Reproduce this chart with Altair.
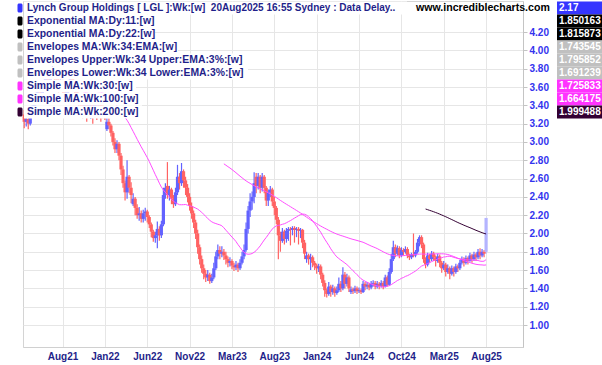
import altair as alt
import pandas as pd
import numpy as np

# ---------------- data (weekly OHLC) ----------------
open_ = [3.30,3.22,3.25,3.20,3.30,3.38,3.42,3.50,3.55,3.48,3.60,3.65,3.70,3.62,3.75,3.80,3.72,3.68,3.60,3.66,
         3.58,3.50,3.55,3.62,3.70,3.64,3.56,3.50,3.45,3.40,3.38,3.42,3.36,3.40,3.45,3.38,3.42,3.40,3.44,3.38,
         3.36,3.14,3.22,3.18,3.10,3.00,2.92,2.98,2.85,2.70,2.55,2.45,2.62,2.50,2.32,2.38,2.28,2.20,2.22,2.16,
         2.22,2.24,2.18,2.10,2.02,1.95,1.98,2.05,1.98,2.10,2.42,2.52,2.42,2.48,2.38,2.32,2.45,2.62,2.55,2.68,
         2.58,2.50,2.40,2.30,2.22,2.12,2.00,1.85,1.72,1.62,1.56,1.52,1.55,1.48,1.52,1.62,1.75,1.82,1.78,1.80,
         1.76,1.72,1.68,1.70,1.65,1.63,1.66,1.62,1.68,1.75,1.82,2.05,2.25,2.35,2.40,2.62,2.52,2.62,2.50,2.62,
         2.50,2.36,2.45,2.48,2.35,2.28,2.15,1.98,1.92,2.02,1.94,2.03,2.05,2.04,2.06,2.04,2.05,2.03,2.04,1.90,
         1.72,1.76,1.72,1.74,1.68,1.65,1.62,1.64,1.55,1.46,1.38,1.34,1.42,1.36,1.40,1.35,1.38,1.45,1.40,1.55,
         1.45,1.52,1.36,1.39,1.37,1.40,1.37,1.38,1.36,1.45,1.42,1.44,1.41,1.45,1.46,1.42,1.45,1.43,1.46,1.42,
         1.52,1.44,1.58,1.72,1.85,1.78,1.84,1.76,1.82,1.80,1.83,1.76,1.74,1.77,1.76,1.80,1.90,1.96,1.88,1.72,
         1.66,1.76,1.72,1.78,1.74,1.70,1.75,1.68,1.62,1.66,1.58,1.62,1.56,1.62,1.58,1.64,1.62,1.68,1.72,1.68,
         1.73,1.70,1.76,1.72,1.77,1.74,1.80,1.76,1.80,1.80]
high = [3.35,3.30,3.28,3.34,3.44,3.48,3.56,3.62,3.58,3.66,3.70,3.76,3.72,3.80,3.88,3.82,3.76,3.70,3.72,3.68,
        3.60,3.60,3.68,3.76,3.72,3.66,3.58,3.54,3.48,3.46,3.48,3.45,3.46,3.50,3.47,3.48,3.46,3.50,3.46,3.42,
        3.38,3.26,3.26,3.20,3.12,3.04,3.02,3.00,2.88,2.74,2.58,2.80,2.64,2.56,2.44,2.40,2.32,2.29,2.25,2.26,
        2.28,2.26,2.20,2.12,2.04,2.02,2.13,2.08,2.14,2.50,2.55,2.78,2.52,2.50,2.42,2.50,2.75,2.66,2.77,2.70,
        2.62,2.54,2.44,2.34,2.25,2.15,2.04,1.88,1.76,1.66,1.60,1.60,1.57,1.56,1.68,1.80,1.88,1.86,1.86,1.83,
        1.80,1.75,1.74,1.72,1.68,1.70,1.68,1.72,1.80,1.88,2.12,2.30,2.44,2.46,2.67,2.66,2.66,2.64,2.66,2.64,
        2.52,2.48,2.52,2.50,2.40,2.30,2.18,2.02,2.06,2.04,2.06,2.07,2.07,2.08,2.08,2.07,2.07,2.06,2.05,1.93,
        1.80,1.78,1.78,1.76,1.70,1.67,1.67,1.66,1.57,1.49,1.40,1.47,1.44,1.44,1.42,1.42,1.52,1.48,1.63,1.58,
        1.56,1.54,1.42,1.41,1.43,1.42,1.41,1.40,1.48,1.47,1.47,1.46,1.48,1.49,1.48,1.48,1.47,1.49,1.48,1.55,
        1.54,1.62,1.78,1.92,1.88,1.87,1.86,1.85,1.84,1.86,1.85,1.78,1.79,2.00,1.82,1.94,1.98,1.98,1.90,1.74,
        1.79,1.78,1.81,1.80,1.76,1.78,1.77,1.70,1.70,1.68,1.66,1.64,1.65,1.64,1.67,1.66,1.71,1.75,1.74,1.76,
        1.75,1.79,1.78,1.80,1.79,1.83,1.84,1.83,1.82,2.17]
low = [3.15,3.17,3.14,3.18,3.27,3.35,3.40,3.46,3.42,3.45,3.56,3.60,3.56,3.60,3.72,3.66,3.62,3.54,3.56,3.52,
       3.44,3.46,3.52,3.60,3.58,3.50,3.44,3.38,3.32,3.26,3.30,3.22,3.28,3.25,3.20,3.30,3.24,3.32,3.22,3.26,
       3.24,3.12,3.14,3.06,2.96,2.88,2.88,2.80,2.64,2.50,2.36,2.38,2.44,2.33,2.30,2.20,2.16,2.14,2.12,2.12,
       2.14,2.12,2.06,1.96,1.91,1.90,1.84,1.92,1.95,2.08,2.38,2.38,2.36,2.32,2.28,2.30,2.42,2.48,2.52,2.50,
       2.42,2.34,2.25,2.16,2.06,1.94,1.78,1.66,1.57,1.50,1.47,1.48,1.45,1.46,1.50,1.60,1.72,1.72,1.74,1.71,
       1.66,1.63,1.64,1.61,1.59,1.60,1.58,1.60,1.66,1.72,1.80,2.00,2.18,2.26,2.33,2.44,2.48,2.44,2.46,2.44,
       2.30,2.30,2.40,2.30,2.20,2.10,1.72,1.80,1.90,1.88,1.90,1.92,1.87,1.98,1.90,1.96,1.88,1.95,1.84,1.72,
       1.68,1.66,1.60,1.63,1.60,1.56,1.58,1.50,1.42,1.31,1.30,1.32,1.31,1.33,1.31,1.33,1.36,1.36,1.38,1.40,
       1.42,1.36,1.34,1.34,1.35,1.34,1.35,1.34,1.35,1.38,1.39,1.38,1.39,1.42,1.39,1.40,1.39,1.41,1.39,1.41,
       1.42,1.43,1.56,1.70,1.74,1.76,1.73,1.74,1.76,1.78,1.73,1.71,1.72,1.74,1.74,1.78,1.86,1.84,1.68,1.62,
       1.64,1.68,1.70,1.70,1.64,1.68,1.63,1.57,1.60,1.53,1.56,1.50,1.54,1.53,1.56,1.58,1.60,1.66,1.64,1.66,
       1.66,1.69,1.68,1.70,1.70,1.72,1.72,1.74,1.74,1.78]
close = [3.22,3.25,3.20,3.30,3.38,3.42,3.50,3.55,3.48,3.60,3.65,3.70,3.62,3.75,3.80,3.72,3.68,3.60,3.66,3.58,
         3.50,3.55,3.62,3.70,3.64,3.56,3.50,3.45,3.40,3.38,3.42,3.36,3.40,3.45,3.38,3.42,3.40,3.44,3.38,3.36,
         3.30,3.22,3.18,3.10,3.00,2.92,2.98,2.85,2.70,2.55,2.45,2.62,2.50,2.42,2.38,2.28,2.20,2.22,2.16,2.22,
         2.24,2.18,2.10,2.02,1.95,1.98,2.05,1.98,2.10,2.42,2.50,2.42,2.48,2.38,2.32,2.45,2.62,2.55,2.68,2.58,
         2.50,2.40,2.30,2.22,2.12,2.00,1.85,1.72,1.62,1.56,1.52,1.55,1.48,1.52,1.62,1.75,1.82,1.78,1.80,1.76,
         1.72,1.68,1.70,1.65,1.63,1.66,1.62,1.68,1.75,1.82,2.05,2.25,2.35,2.40,2.55,2.52,2.62,2.50,2.62,2.50,
         2.36,2.45,2.48,2.35,2.28,2.15,1.98,1.92,2.02,1.94,2.03,2.05,2.04,2.06,2.04,2.05,2.03,2.04,1.90,1.78,
         1.76,1.72,1.74,1.68,1.65,1.62,1.64,1.55,1.46,1.38,1.34,1.42,1.36,1.40,1.35,1.38,1.45,1.40,1.55,1.45,
         1.52,1.40,1.39,1.37,1.40,1.37,1.38,1.36,1.45,1.42,1.44,1.41,1.45,1.46,1.42,1.45,1.43,1.46,1.42,1.52,
         1.44,1.58,1.72,1.85,1.78,1.84,1.76,1.82,1.80,1.83,1.76,1.74,1.77,1.76,1.80,1.90,1.96,1.88,1.72,1.66,
         1.76,1.72,1.78,1.74,1.70,1.75,1.68,1.62,1.66,1.58,1.62,1.56,1.62,1.58,1.64,1.62,1.68,1.72,1.68,1.73,
         1.70,1.76,1.72,1.77,1.74,1.80,1.76,1.80,1.78,2.17]

tick_weeks = [19, 40, 61, 82, 103, 124, 145, 166, 187, 208, 229]
tick_labels = ["Aug21", "Jan22", "Jun22", "Nov22", "Mar23", "Aug23", "Jan24", "Jun24", "Oct24", "Mar25", "Aug25"]
price_ticks = [1.0, 1.2, 1.4, 1.6, 1.8, 2.0, 2.2, 2.4, 2.6, 2.8, 3.0, 3.2, 3.4, 3.6, 3.8, 4.0, 4.2]

legend_labels = ["Lynch Group Holdings [ LGL ]:Wk:[w]\u00a0 20Aug2025 16:55 Sydney : Data Delay..",
                 "Exponential MA:Dy:11:[w]", "Exponential MA:Dy:22:[w]", "Envelopes MA:Wk:34:EMA:[w]",
                 "Envelopes Upper:Wk:34 Upper:EMA:3%:[w]", "Envelopes Lower:Wk:34 Lower:EMA:3%:[w]",
                 "Simple MA:Wk:30:[w]", "Simple MA:Wk:100:[w]", "Simple MA:Wk:200:[w]"]
legend_values = ["2.17", "1.850163", "1.815873", "1.743545", "1.795852", "1.691239",
                 "1.725833", "1.664175", "1.999488"]
site_label = "www.incrediblecharts.com"

# ---------------- styles / layout ----------------
legend_colors = ["#3535ff", "#000000", "#000000", "#c0c0c0", "#c0c0c0", "#c0c0c0",
                 "#ff33ff", "#ff33ff", "#330033"]
row_ends = [405, 153, 153, 176, 241, 246, 134, 140, 140]   # absolute px where each legend row's text ends
row_font = [10.0, 10.4, 10.4, 10.4, 10.4, 10.4, 10.4, 10.4, 10.4]
PAD_L, PAD_T, PAD_R, PAD_B = 23, 1, 79, 18
W, H = 602 - PAD_L - PAD_R, 365 - PAD_T - PAD_B
NAVY = "#1f1f8a"
FONT = "Liberation Sans"

df = pd.DataFrame({"i": np.arange(len(close)), "o": open_, "h": high, "l": low, "c": close})
df["kind"] = np.where(df["c"] >= df["o"], "up", "down")
df.loc[df.index[-1], "kind"] = "live"

label_expr = ("[" + ",".join(f"'{s}'" for s in tick_labels) + "][indexof(["
              + ",".join(str(v) for v in tick_weeks) + "], datum.value)]")

xs = alt.Scale(domain=[-0.6, 247.3], nice=False, zero=False)
ys = alt.Scale(domain=[0.76, 4.54], nice=False, zero=False)

x_axis = alt.Axis(values=tick_weeks, labelExpr=label_expr, title=None, tickSize=0,
                  labelPadding=4, labelColor=NAVY, labelFont=FONT, labelFontWeight="bold",
                  labelFontSize=10, labelOverlap=False, grid=True, gridColor="#e6e6e6",
                  domainColor="#d0d0d0")
y_axis = alt.Axis(values=price_ticks, format=".2f", orient="right", title=None, tickSize=4,
                  tickColor="#c4c4c4", labelPadding=2, labelColor="#3333ee", labelFont=FONT,
                  labelFontWeight="bold", labelFontSize=10, labelOverlap=False, labelBound=False,
                  labelSeparation=0, grid=True, gridColor="#e6e6e6", domainColor="#c4c4c4")

base = alt.Chart(df)
wick_scale = alt.Scale(domain=["up", "down", "live"], range=["#6262ff", "#ff6262", "#b4b4ff"])
body_scale = alt.Scale(domain=["up", "down", "live"], range=["#1c1cff", "#ff1010", "#a8a8ff"])

wicks = base.mark_rule(strokeWidth=1.2).encode(
    x=alt.X("i:Q", scale=xs, axis=x_axis),
    y=alt.Y("l:Q", scale=ys, axis=y_axis),
    y2="h:Q",
    color=alt.Color("kind:N", scale=wick_scale, legend=None),
)
bodies = base.mark_rule(strokeWidth=3.2).encode(
    x=alt.X("i:Q", scale=xs, axis=x_axis),
    y=alt.Y("o:Q", scale=ys, axis=y_axis),
    y2="c:Q",
    color=alt.Color("kind:N", scale=body_scale, legend=None),
)


def sma(n, color):
    return (base.transform_window(sma="mean(c)", cnt="count()", frame=[-(n - 1), 0],
                                  sort=[alt.SortField("i")])
            .transform_filter(alt.datum.cnt >= n)
            .mark_line(strokeWidth=1, color=color)
            .encode(x=alt.X("i:Q", scale=xs, axis=x_axis),
                    y=alt.Y("sma:Q", scale=ys, axis=y_axis)))


layers = [wicks, bodies, sma(30, "#ff4cff"), sma(100, "#ff4cff"), sma(200, "#330033")]

one = pd.DataFrame({"k": [0]})
for k, (lab, val, col, end, fs) in enumerate(zip(legend_labels, legend_values, legend_colors,
                                                 row_ends, row_font)):
    yc = 8 + 13 * k - PAD_T
    layers.append(alt.Chart(one).mark_rect(color="white").encode(
        x=alt.value(24 - PAD_L), x2=alt.value(end - PAD_L + 2),
        y=alt.value(yc - 6.5), y2=alt.value(yc + 6.5)))
    layers.append(alt.Chart(one).mark_rect(color=col, cornerRadius=1.5).encode(
        x=alt.value(17.5 - PAD_L), x2=alt.value(22.5 - PAD_L),
        y=alt.value(yc - 4.5), y2=alt.value(yc + 4.5)))
    layers.append(alt.Chart(pd.DataFrame({"t": [lab]})).mark_text(
        align="left", baseline="middle", font=FONT, fontWeight="bold", fontSize=fs, color=NAVY
    ).encode(x=alt.value(27 - PAD_L), y=alt.value(yc), text="t:N"))
    layers.append(alt.Chart(one).mark_rect(color=col).encode(
        x=alt.value(557 - PAD_L), x2=alt.value(602 - PAD_L),
        y=alt.value(yc - 6.5), y2=alt.value(yc + 6.5)))
    layers.append(alt.Chart(pd.DataFrame({"t": [val]})).mark_text(
        align="left", baseline="middle", font=FONT, fontWeight="bold", fontSize=10, color="white"
    ).encode(x=alt.value(559 - PAD_L), y=alt.value(yc), text="t:N"))

layers.append(alt.Chart(pd.DataFrame({"t": [site_label]})).mark_text(
    align="left", baseline="middle", font=FONT, fontWeight="bold", fontSize=10.6, color="black"
).encode(x=alt.value(416 - PAD_L), y=alt.value(8 - PAD_T), text="t:N"))

chart = alt.layer(*layers).properties(
    width=W, height=H,
    padding={"left": PAD_L, "top": PAD_T, "right": PAD_R, "bottom": PAD_B},
    autosize=alt.AutoSizeParams(type="none"),
    background="white",
).configure_view(stroke="#d4d4d4").configure_axis(labelOverlap=False)

chart.save("out.html", embed_options={"renderer": "svg", "actions": False})
